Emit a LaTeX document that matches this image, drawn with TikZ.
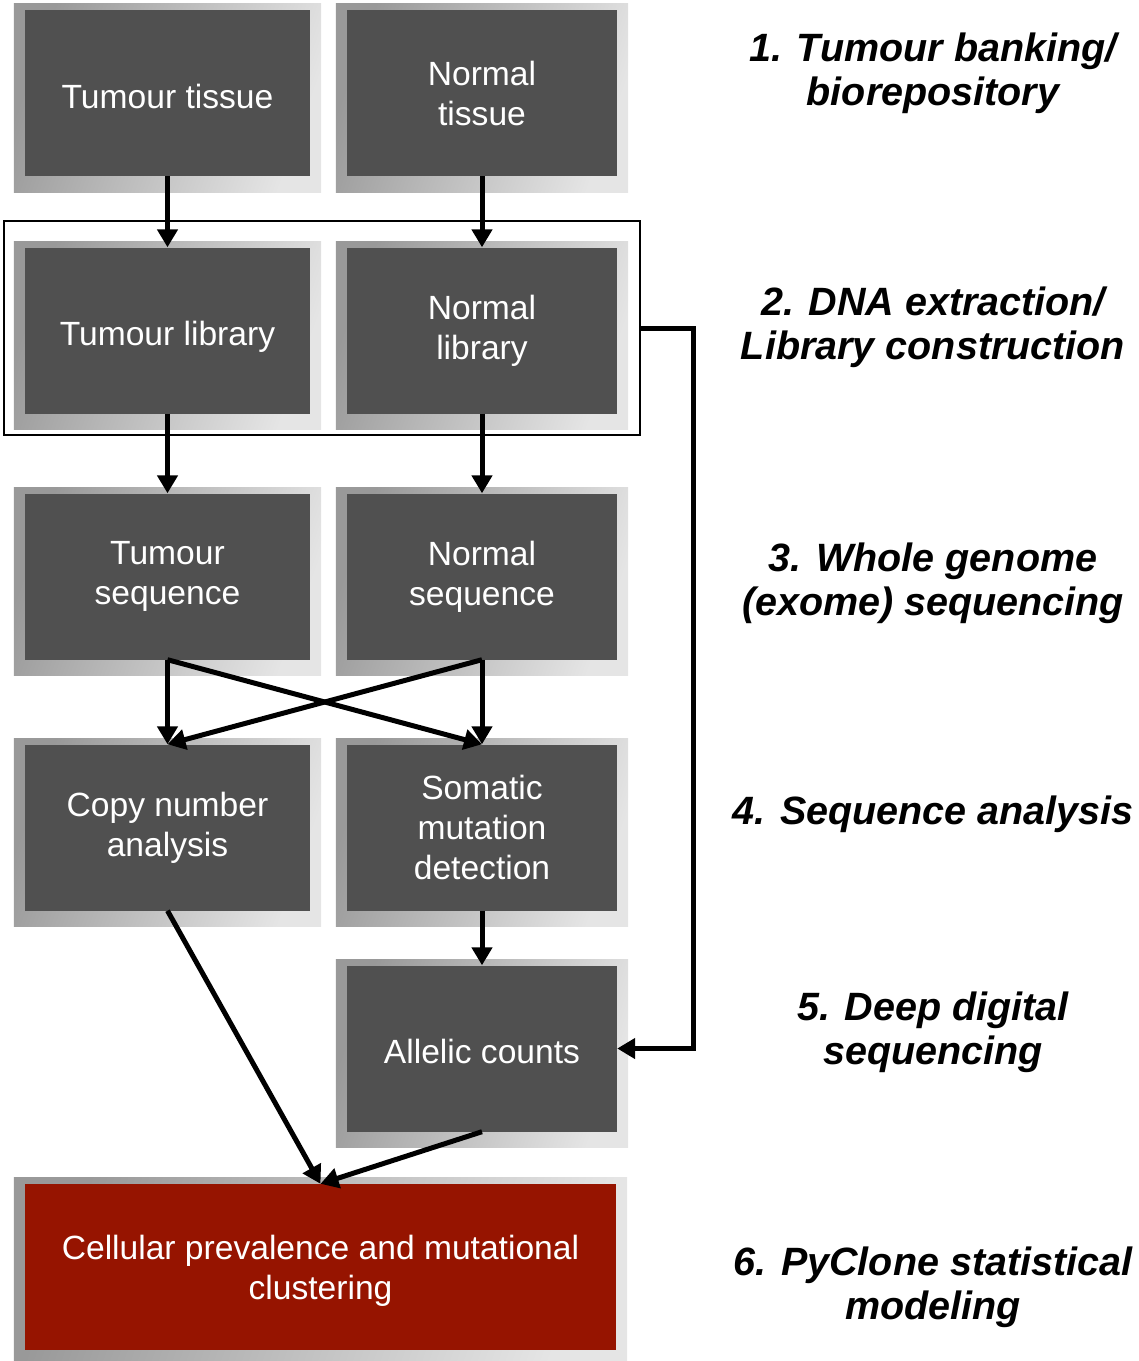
\documentclass[tikz,border=0pt]{standalone}
\usepackage{fontspec}
\setmainfont{Liberation Sans}
\usetikzlibrary{arrows.meta,backgrounds}
\definecolor{boxgray}{RGB}{80,80,80}
\definecolor{boxred}{RGB}{150,20,0}
\tikzset{
  box/.style={fill=boxgray, text=white, inner sep=0pt, minimum height=166pt,
    align=center, font=\fontsize{33.6}{40}\selectfont},
  oneline/.style={text height=32pt, text depth=2pt},
  redbox/.style={box, fill=boxred},
  back/.style={left color=black!40, right color=black!10, shading angle=70},
  stage/.style={align=center, font=\fontsize{39.5}{44}\selectfont\bfseries\itshape},
  flow/.style={line width=5pt, -{Triangle[length=18pt,width=20pt]}}
}
\begin{document}
\begin{tikzpicture}[x=1pt,y=-1pt]
      \useasboundingbox (0,0) rectangle (1139,1361);
      \path
        (167.5,93) node[box, oneline, minimum width=285pt] (tt){Tumour tissue}
        (482,93) node[box, minimum width=270pt] (nt){Normal\\tissue}
        (167.5,330.5) node[box, oneline, minimum width=285pt] (tl){Tumour library}
        (482,330.5) node[box, minimum width=270pt] (nl){Normal\\library}
        (167.5,576.5) node[box, minimum width=285pt] (ts){Tumour\\sequence}
        (482,576.5) node[box, minimum width=270pt] (ns){Normal\\sequence}
        (167.5,827.5) node[box, minimum width=285pt] (cn){Copy number\\analysis}
        (482,827.5) node[box, minimum width=270pt] (sm){Somatic\\mutation\\detection}
        (482,1048.5) node[box, oneline, minimum width=270pt] (ac){Allelic counts}
        (320.5,1267) node[redbox, minimum width=591pt] (cp){\rule{0pt}{32pt}Cellular prevalence and mutational\\clustering};
      \node[draw, line width=2pt, minimum width=636pt, minimum height=214pt, inner sep=0pt] (frame) at (322,328) {};
      \begin{scope}[on background layer]
        \foreach \n in {tt,nt,tl,nl,ts,ns,cn,sm,ac,cp}
          \shade[back] ([xshift=-11pt,yshift=6pt]\n.north west) rectangle ([xshift=11pt,yshift=-16pt]\n.south east);
      \end{scope}
      \path
        (933,73) node[stage] (s1){1. Tumour banking/\\biorepository}
        (933,327) node[stage] (s2){2. DNA extraction/\\Library construction}
        (933,583) node[stage] (s3){3. Whole genome\\(exome) sequencing}
        (933,814) node[stage] (s4){4. Sequence analysis}
        (933,1032) node[stage] (s5){5. Deep digital\\sequencing}
        (933,1287) node[stage] (s6){6. PyClone statistical\\modeling};
      \begin{scope}[flow]
        \draw (tt) to (tl);
        \draw (nt) to (nl);
        \draw (tl) to (ts);
        \draw (nl) to (ns);
        \draw (ts.south) to (cn.north);
        \draw (ts.south) to (sm.north);
        \draw (ns.south) to (cn.north);
        \draw (ns.south) to (sm.north);
        \draw (sm) to (ac);
        \draw (cn.south) to (cp.north);
        \draw (ac.south) to (cp.north);
        \draw (frame.east) -- ++(52,0) |- (ac.east);
      \end{scope}
    \end{tikzpicture}
\end{document}
